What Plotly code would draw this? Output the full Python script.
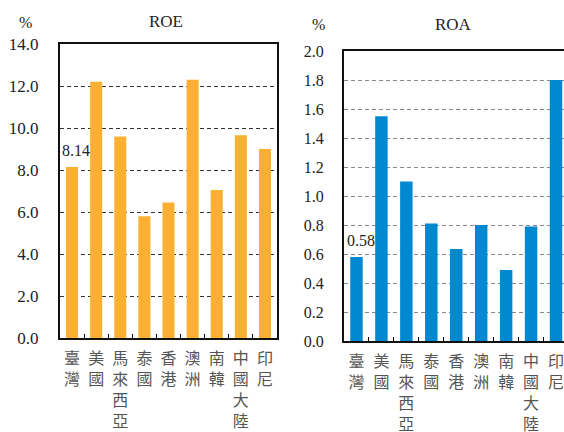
import plotly.graph_objects as go

# Categories (each character on its own line for vertical labels)
regions = ["臺灣", "美國", "馬來西亞", "泰國", "香港", "澳洲", "南韓", "中國大陸", "印尼"]
roe = [8.14, 12.2, 9.6, 5.8, 6.45, 12.3, 7.05, 9.65, 9.0]
roa = [0.58, 1.55, 1.10, 0.81, 0.635, 0.80, 0.49, 0.79, 1.80]
roe_ticks = [0, 2, 4, 6, 8, 10, 12, 14]
roa_ticks = [0, 0.2, 0.4, 0.6, 0.8, 1.0, 1.2, 1.4, 1.6, 1.8, 2.0]

vert_labels = ["<br>".join(list(r)) for r in regions]

W, H = 564, 432
ORANGE = "#FBB034"
BLUE = "#0089D1"
SERIF = "Liberation Serif"
CJK = "Noto Sans CJK TC"

fig = go.Figure()
fig.add_trace(go.Bar(x=regions, y=roe, marker_color=ORANGE, marker_line_width=0,
                     xaxis="x", yaxis="y", showlegend=False, hoverinfo="skip"))
fig.add_trace(go.Bar(x=regions, y=roa, marker_color=BLUE, marker_line_width=0,
                     xaxis="x2", yaxis="y2", showlegend=False, hoverinfo="skip"))

def px_x(p):
    return p / W

def px_y(p):
    return 1 - p / H

common_x = dict(
    type="category", categoryorder="array", categoryarray=regions,
    tickmode="array", tickvals=regions, ticktext=vert_labels, tickangle=0,
    tickson="boundaries", ticks="inside", ticklen=4, tickwidth=1, tickcolor="#000",
    showline=True, linewidth=2, linecolor="#111", mirror=True,
    showgrid=False, zeroline=False, automargin=False,
    tickfont=dict(family=CJK, size=16, color="#555"),
    ticklabelstandoff=5,
)

fig.update_layout(
    width=W, height=H,
    margin=dict(l=0, r=0, t=0, b=0, autoexpand=False),
    paper_bgcolor="white", plot_bgcolor="white",
    bargap=0.5,
    xaxis=dict(common_x, domain=[px_x(60), px_x(277)], anchor="y", range=[-0.5, 8.5]),
    yaxis=dict(
        domain=[px_y(338), px_y(44)], anchor="x", range=[0, 14],
        tickmode="array", tickvals=roe_ticks, tickformat=".1f",
        ticks="", showline=True, linewidth=2, linecolor="#111", mirror=True,
        showgrid=True, gridcolor="#333", griddash="4px,3px", gridwidth=1,
        zeroline=False, ticklabelstandoff=16, automargin=False,
        tickfont=dict(family=SERIF, size=17, color="#222"),
    ),
    xaxis2=dict(common_x, domain=[px_x(344), 1.0], anchor="y2", range=[-0.5, 8.32]),
    yaxis2=dict(
        domain=[px_y(341), px_y(51)], anchor="x2", range=[0, 2.0],
        tickmode="array", tickvals=roa_ticks, tickformat=".1f",
        ticks="", showline=True, linewidth=2, linecolor="#111", mirror=False,
        showgrid=True, gridcolor="#888", griddash="4px,3px", gridwidth=1,
        zeroline=False, ticklabelstandoff=15, automargin=False,
        tickfont=dict(family=SERIF, size=16, color="#222"),
    ),
)

def label(text, x, y, size=16):
    return dict(text=text, x=px_x(x), y=px_y(y), xref="paper", yref="paper",
                xanchor="center", yanchor="middle", showarrow=False,
                font=dict(family=SERIF, size=size, color="#222"))

annotations = [
    label("%", 25, 22),
    label("ROE", 166, 21, 17),
    label("%", 318, 25),
    label("ROA", 453, 25, 17),
    # value labels for the first bar of each panel
    dict(text=f"{roe[0]:.2f}", x=regions[0], y=roe[0], xref="x", yref="y",
         xanchor="center", yanchor="bottom", yshift=6, xshift=4, showarrow=False,
         font=dict(family=SERIF, size=16, color="#222")),
    dict(text=f"{roa[0]:.2f}", x=regions[0], y=roa[0], xref="x2", yref="y2",
         xanchor="center", yanchor="bottom", yshift=6, xshift=5, showarrow=False,
         font=dict(family=SERIF, size=16, color="#222")),
]
fig.update_layout(annotations=annotations)

fig.write_html("out.html")
